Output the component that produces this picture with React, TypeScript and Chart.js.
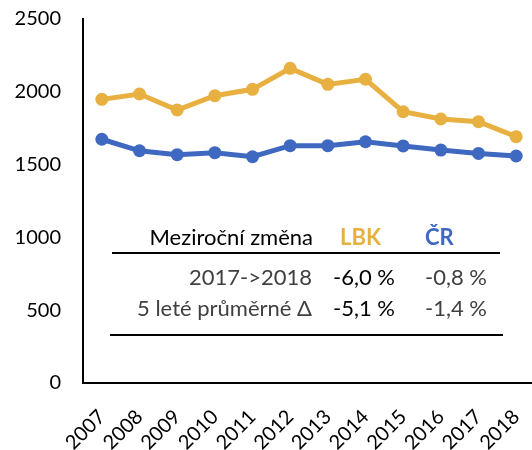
import React, { useEffect, useRef } from "react";
import { Chart, registerables } from "chart.js";
Chart.register(...registerables);

const years = ["2007", "2008", "2009", "2010", "2011", "2012", "2013", "2014", "2015", "2016", "2017", "2018"];
const lbkValues = [1948, 1985, 1875, 1973, 2017, 2161, 2051, 2086, 1863, 1813, 1795, 1692];
const crValues = [1674, 1595, 1568, 1582, 1554, 1630, 1630, 1657, 1628, 1600, 1577, 1559];
const yTicks = [0, 500, 1000, 1500, 2000, 2500];

const tableTitle = "Meziroční změna";
const seriesNames = ["LBK", "ČR"];
const rowLabels = ["2017->2018", "5 leté průměrné Δ"];
const lbkChanges = ["-6,0 %", "-5,1 %"];
const crChanges = ["-0,8 %", "-1,4 %"];

const ORANGE = "#E8B040";
const BLUE = "#3F68C0";
const FONT = "Lato";

export default function App() {
  const ref = useRef<HTMLCanvasElement | null>(null);
  useEffect(() => {
    if (!ref.current) return;
    const chart = new Chart(ref.current, {
      type: "line",
      data: {
        labels: years,
        datasets: [
          {
            label: seriesNames[0],
            data: lbkValues,
            borderColor: ORANGE,
            backgroundColor: ORANGE,
            borderWidth: 5,
            pointRadius: 6.5,
            pointBorderWidth: 0,
            pointBackgroundColor: ORANGE,
            tension: 0,
          },
          {
            label: seriesNames[1],
            data: crValues,
            borderColor: BLUE,
            backgroundColor: BLUE,
            borderWidth: 5,
            pointRadius: 6.5,
            pointBorderWidth: 0,
            pointBackgroundColor: BLUE,
            tension: 0,
          },
        ],
      },
      options: {
        responsive: false,
        animation: false,
        layout: { padding: { top: 19, right: 10, left: 0, bottom: 0 } },
        plugins: { legend: { display: false }, tooltip: { enabled: false } },
        scales: {
          x: {
            offset: true,
            grid: { display: true, drawOnChartArea: false, drawTicks: true, tickLength: 22, tickColor: "rgba(0,0,0,0)" },
            border: { display: true, color: "#000", width: 2 },
            ticks: {
              autoSkip: false,
              minRotation: 45,
              maxRotation: 45,
              color: "#000",
              padding: 0,
              font: { family: FONT, size: 20 },
            },
            afterFit: (s: any) => {
              s.height = 67;
            },
          },
          y: {
            min: 0,
            max: 2500,
            afterBuildTicks: (s: any) => {
              s.ticks = yTicks.map((v) => ({ value: v }));
            },
            grid: { display: true, drawOnChartArea: false, drawTicks: true, tickLength: 22, tickColor: "rgba(0,0,0,0)" },
            border: { display: true, color: "#000", width: 2 },
            ticks: {
              color: "#000",
              padding: 0,
              font: { family: FONT, size: 20 },
              callback: (v: any) => String(v),
            },
            afterFit: (s: any) => {
              s.width = 83;
            },
          },
        },
      },
    });
    return () => chart.destroy();
  }, []);

  const txt: React.CSSProperties = {
    position: "absolute",
    fontFamily: FONT,
    fontSize: 22,
    lineHeight: "26px",
    whiteSpace: "nowrap",
  };

  return (
    <div style={{ position: "fixed", left: 0, top: 0, width: 532, height: 450, overflow: "hidden", background: "#fff" }}>
      <canvas ref={ref} width={545} height={450} style={{ position: "absolute", left: 0, top: 0 }} />
      <div style={{ ...txt, left: 0, width: 313, textAlign: "right", top: 224, color: "#000" }}>{tableTitle}</div>
      <div style={{ ...txt, left: 340, top: 224, color: ORANGE, fontWeight: 700 }}>{seriesNames[0]}</div>
      <div style={{ ...txt, left: 425, top: 224, color: BLUE, fontWeight: 700 }}>{seriesNames[1]}</div>
      <div style={{ position: "absolute", left: 112, top: 252, width: 388, height: 2, background: "#000" }} />
      {rowLabels.map((r, i) => (
        <React.Fragment key={r}>
          <div style={{ ...txt, left: 0, width: 312, textAlign: "right", top: i === 0 ? 264 : 295, color: "#404040" }}>{r}</div>
          <div style={{ ...txt, left: 333, top: i === 0 ? 264 : 295, color: "#000" }}>{lbkChanges[i]}</div>
          <div style={{ ...txt, left: 425, top: i === 0 ? 264 : 295, color: "#404040" }}>{crChanges[i]}</div>
        </React.Fragment>
      ))}
      <div style={{ position: "absolute", left: 110, top: 334, width: 393, height: 2, background: "#000" }} />
    </div>
  );
}
